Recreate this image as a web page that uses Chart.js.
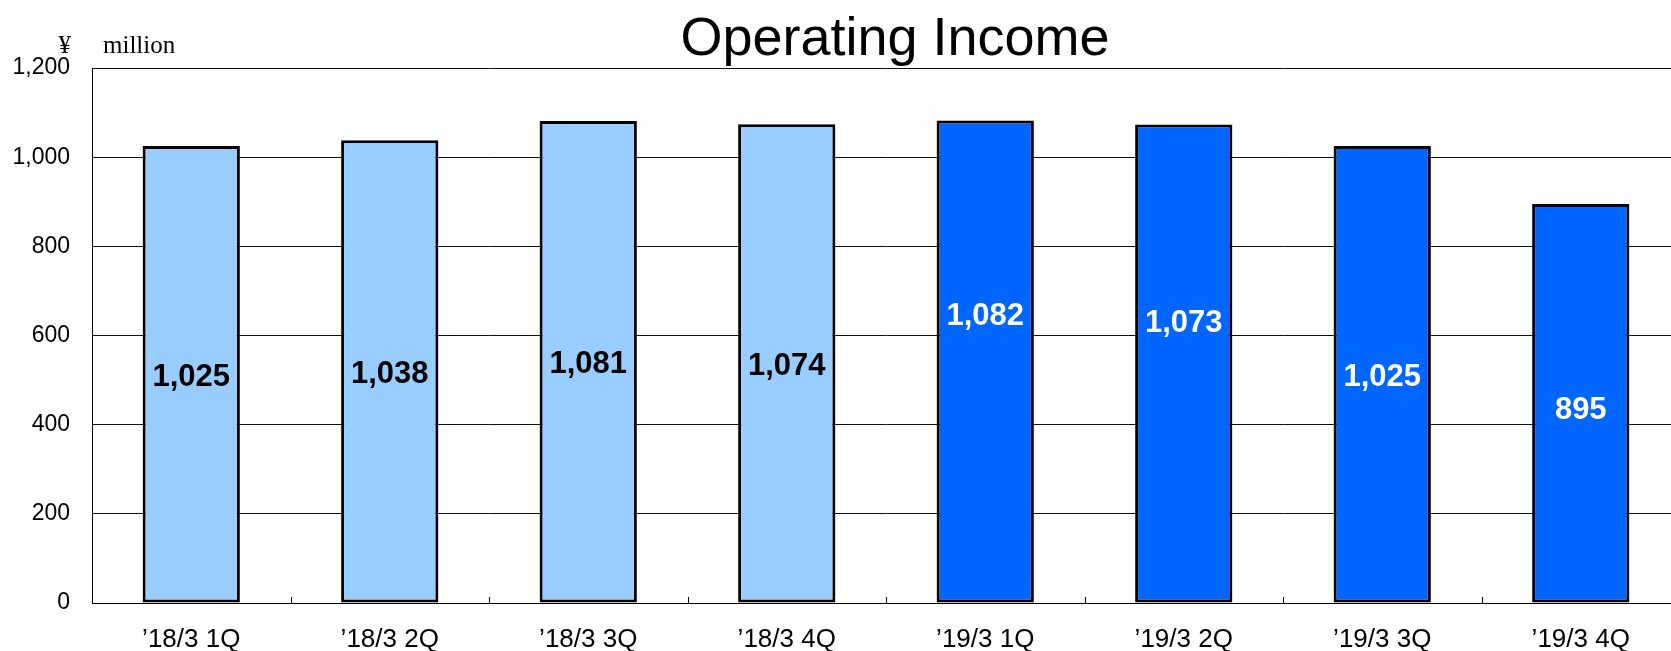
<!DOCTYPE html>
<html>
<head>
<meta charset="utf-8">
<script src="https://cdn.jsdelivr.net/npm/chart.js@4"></script>
<style>
  html, body { margin: 0; padding: 0; background: #fff; overflow: hidden; width: 1671px; height: 651px; }
  #wrap { position: relative; width: 1790px; height: 651px; }
</style>
</head>
<body>
<div id="wrap"><canvas id="c"></canvas></div>
<script>
// ---- data ----
const categories = ["’18/3 1Q", "’18/3 2Q", "’18/3 3Q", "’18/3 4Q", "’19/3 1Q", "’19/3 2Q", "’19/3 3Q", "’19/3 4Q"];
const operatingIncome = [1025, 1038, 1081, 1074, 1082, 1073, 1025, 895];
const yTicks = [0, 200, 400, 600, 800, 1000, 1200];
const chartTitle = "Operating Income";
const unitLabel = ["¥", "million"];

// ---- style ----
const barColors = ["#99CCFF", "#99CCFF", "#99CCFF", "#99CCFF", "#0066FF", "#0066FF", "#0066FF", "#0066FF"];
const labelColors = ["#000", "#000", "#000", "#000", "#fff", "#fff", "#fff", "#fff"];
const labelAnchor = [0.5, 0.5, 0.5, 0.5, 0.6, 0.59, 0.5, 0.49]; // fraction of bar height

const fmt = v => v.toLocaleString('en-US');

const valueLabels = {
  id: 'valueLabels',
  afterDatasetsDraw(chart) {
    const ctx = chart.ctx;
    const meta = chart.getDatasetMeta(0);
    ctx.save();
    ctx.font = 'bold 31px "Liberation Sans", Arial, sans-serif';
    ctx.textAlign = 'center';
    ctx.textBaseline = 'middle';
    meta.data.forEach((bar, i) => {
      const y = bar.base + (bar.y - bar.base) * labelAnchor[i] + 3;
      ctx.fillStyle = labelColors[i];
      ctx.fillText(fmt(operatingIncome[i]), bar.x, y);
    });
    ctx.restore();
  }
};

const innerTicks = {
  id: 'innerTicks',
  afterDatasetsDraw(chart) {
    const ctx = chart.ctx;
    const xs = chart.scales.x;
    const bottom = chart.chartArea.bottom;
    ctx.save();
    ctx.strokeStyle = '#000';
    ctx.lineWidth = 1;
    for (let i = 1; i < categories.length; i++) {
      const x = Math.round((xs.getPixelForValue(i - 1) + xs.getPixelForValue(i)) / 2) + 0.5;
      ctx.beginPath();
      ctx.moveTo(x, bottom);
      ctx.lineTo(x, bottom - 6);
      ctx.stroke();
    }
    ctx.restore();
  }
};

const textDecor = {
  id: 'textDecor',
  afterDraw(chart) {
    const ctx = chart.ctx;
    const left = chart.chartArea.left;
    const top = chart.chartArea.top;
    ctx.save();
    ctx.fillStyle = '#000';
    ctx.textBaseline = 'alphabetic';
    // title, centred on the full canvas
    ctx.font = '54px "Liberation Sans", Arial, sans-serif';
    ctx.textAlign = 'center';
    ctx.fillText(chartTitle, chart.width / 2, top - 13);
    // unit label
    ctx.font = '25px "Liberation Serif", "Times New Roman", serif';
    ctx.textAlign = 'right';
    ctx.fillText(unitLabel[0], left - 21, top - 15);
    ctx.textAlign = 'left';
    ctx.fillText(unitLabel[1], left + 11, top - 15);
    ctx.restore();
  }
};

new Chart(document.getElementById('c'), {
  type: 'bar',
  data: {
    labels: categories,
    datasets: [{
      data: operatingIncome,
      backgroundColor: barColors,
      borderColor: '#000',
      borderWidth: 3,
      borderSkipped: false,
      categoryPercentage: 1.0,
      barPercentage: 0.49
    }]
  },
  options: {
    responsive: true,
    maintainAspectRatio: false,
    animation: false,
    devicePixelRatio: 1,
    layout: { padding: { left: 0, right: 110, top: 68, bottom: 0 } },
    plugins: {
      legend: { display: false },
      tooltip: { enabled: false },
      title: { display: false }
    },
    scales: {
      x: {
        grid: { display: false, drawTicks: false },
        border: { display: true, color: '#000', width: 1 },
        ticks: {
          color: '#000',
          padding: 21,
          font: { family: '"Liberation Sans", Arial, sans-serif', size: 26 }
        },
        afterFit(scale) { scale.height = 48; }
      },
      y: {
        min: 0,
        max: 1200,
        afterBuildTicks(scale) { scale.ticks = yTicks.map(v => ({ value: v })); },
        grid: { color: '#111', lineWidth: 1, drawTicks: false },
        border: { display: true, color: '#000', width: 1 },
        ticks: {
          color: '#000',
          padding: 22,
          callback: v => fmt(v),
          font: { family: '"Liberation Sans", Arial, sans-serif', size: 23 }
        },
        afterFit(scale) { scale.width = 92; }
      }
    }
  },
  plugins: [valueLabels, innerTicks, textDecor]
});
</script>
</body>
</html>
